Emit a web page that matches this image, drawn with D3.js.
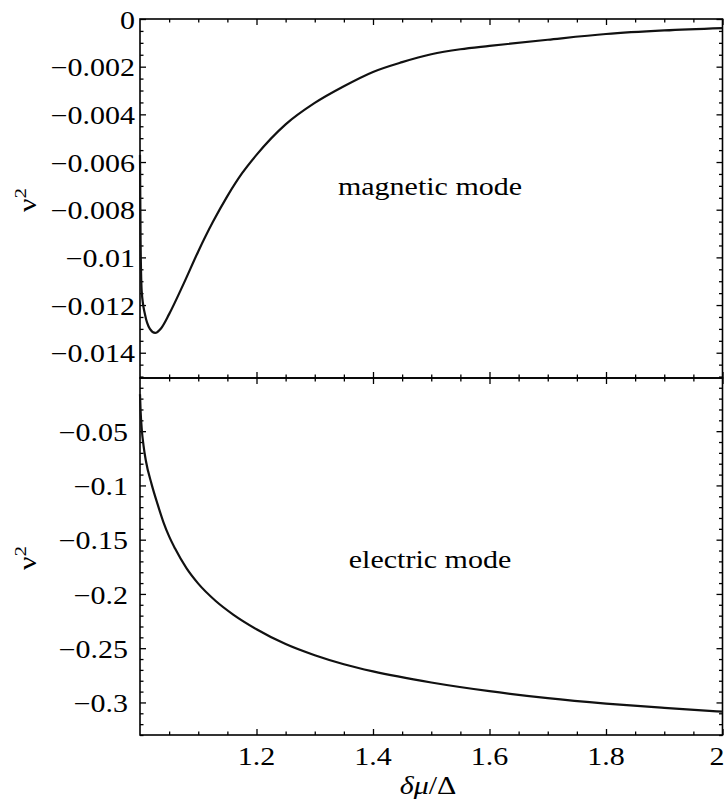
<!DOCTYPE html>
<html><head><meta charset="utf-8">
<script src="https://cdn.jsdelivr.net/npm/d3@7"></script>
<style>
body{margin:0;background:#fff;}
text{font-family:"Liberation Serif","Times New Roman",serif;fill:#000;}
</style></head>
<body><svg id="c" width="728" height="807"></svg>
<script>
// ---- data ----
const magX = [1.0, 1.001, 1.003, 1.0087, 1.017, 1.026, 1.036, 1.05, 1.075, 1.1, 1.125, 1.15, 1.175, 1.2, 1.25, 1.3, 1.35, 1.4, 1.45, 1.5, 1.55, 1.6, 1.7, 1.8, 1.9, 2.0];
const magY = [-0.0057, -0.0093, -0.01145, -0.01241, -0.0130, -0.01317, -0.01298, -0.01238, -0.0111, -0.00975, -0.00852, -0.00743, -0.00648, -0.0057, -0.00442, -0.00352, -0.00282, -0.00222, -0.00181, -0.00148, -0.00127, -0.00113, -0.00087, -0.00063, -0.00048, -0.00038];
const eleX = [1.0, 1.001, 1.003, 1.006, 1.01, 1.02, 1.03, 1.04, 1.05, 1.06, 1.08, 1.1, 1.13, 1.16, 1.2, 1.25, 1.3, 1.35, 1.4, 1.5, 1.6, 1.7, 1.8, 1.9, 2.0];
const eleY = [-0.016, -0.031, -0.048, -0.063, -0.077, -0.099, -0.117, -0.1335, -0.147, -0.158, -0.1765, -0.1905, -0.2065, -0.219, -0.2325, -0.2462, -0.2565, -0.2648, -0.2714, -0.2816, -0.2896, -0.2960, -0.3010, -0.3050, -0.3085];
const xTicks = [1.2, 1.4, 1.6, 1.8, 2];
const xTickLabels = ["1.2", "1.4", "1.6", "1.8", "2"];
const magTicks = [0, -0.002, -0.004, -0.006, -0.008, -0.01, -0.012, -0.014];
const magTickLabels = ["0", "\u22120.002", "\u22120.004", "\u22120.006", "\u22120.008", "\u22120.01", "\u22120.012", "\u22120.014"];
const eleTicks = [-0.05, -0.1, -0.15, -0.2, -0.25, -0.3];
const eleTickLabels = ["\u22120.05", "\u22120.1", "\u22120.15", "\u22120.2", "\u22120.25", "\u22120.3"];
const panelLabels = ["magnetic mode", "electric mode"];

// ---- layout ----
const L = 140, R = 722.5, T = 19, M = 378, B = 735;
const FS = 25, SX = 1.2;
const svg = d3.select("#c");

const x = d3.scaleLinear().domain([1, 2]).range([L, R]);
const yTop = d3.scaleLinear().domain([-0.01506, 0]).range([M, T]);
const yBot = d3.scaleLinear().domain([-0.33, -0.001]).range([B, M]);

const xMinor = d3.range(1.05, 2.0, 0.05).filter(v => Math.abs(v * 5 - Math.round(v * 5)) > 1e-6);

function panel(y, yMajor, yMinor, top, bottom) {
  const g = svg.append("g");
  g.append("rect").attr("x", L).attr("y", top).attr("width", R - L).attr("height", bottom - top)
    .attr("fill", "none").attr("stroke", "#000").attr("stroke-width", 1.6);
  const tick = (axis, tr, vals, size) => {
    const a = g.append("g").attr("transform", tr)
      .call(axis.tickValues(vals).tickSize(size).tickFormat(""));
    a.select(".domain").remove();
    a.selectAll("line").attr("stroke", "#000").attr("stroke-width", 1.3);
  };
  tick(d3.axisLeft(y), `translate(${L},0)`, yMajor, -6);
  tick(d3.axisLeft(y), `translate(${L},0)`, yMinor, -3.5);
  tick(d3.axisRight(y), `translate(${R},0)`, yMajor, -6);
  tick(d3.axisRight(y), `translate(${R},0)`, yMinor, -3.5);
  tick(d3.axisTop(x), `translate(0,${top})`, xTicks, -6);
  tick(d3.axisTop(x), `translate(0,${top})`, xMinor, -3.5);
  tick(d3.axisBottom(x), `translate(0,${bottom})`, xTicks, -6);
  tick(d3.axisBottom(x), `translate(0,${bottom})`, xMinor, -3.5);
}

const magMinor = d3.range(0, 61).map(i => -i * 0.0005).filter(v => v >= -0.01506 && Math.abs(v / 0.002 - Math.round(v / 0.002)) > 1e-6);
const eleMinor = d3.range(0, 34).map(i => -i * 0.01).filter(v => v >= -0.33 && v <= -0.001 && Math.abs(v / 0.05 - Math.round(v / 0.05)) > 1e-6);

panel(yTop, magTicks, magMinor, T, M);
panel(yBot, eleTicks, eleMinor, M, B);

// curves
const lineTop = d3.line().x(d => x(d[0])).y(d => yTop(d[1])).curve(d3.curveMonotoneX);
const lineBot = d3.line().x(d => x(d[0])).y(d => yBot(d[1])).curve(d3.curveMonotoneX);
svg.append("path").datum(magX.map((v, i) => [v, magY[i]])).attr("d", lineTop)
  .attr("fill", "none").attr("stroke", "#111").attr("stroke-width", 2.2);
svg.append("path").datum(eleX.map((v, i) => [v, eleY[i]])).attr("d", lineBot)
  .attr("fill", "none").attr("stroke", "#111").attr("stroke-width", 2.2);

function label(str, px, py, anchor) {
  svg.append("text").attr("transform", `translate(${px},${py}) scale(${SX},1)`)
    .attr("text-anchor", anchor).attr("dominant-baseline", "central")
    .attr("font-size", FS).text(str);
}
magTicks.forEach((v, i) => label(magTickLabels[i], 135, yTop(v) + 1, "end"));
eleTicks.forEach((v, i) => label(eleTickLabels[i], 128, yBot(v) + 1, "end"));
xTicks.forEach((v, i) => {
  svg.append("text").attr("transform", `translate(${Math.min(x(v), 717)},765) scale(${SX},1)`)
    .attr("text-anchor", "middle").attr("font-size", FS).text(xTickLabels[i]);
});

svg.append("text").attr("transform", `translate(430,195) scale(${SX},1)`)
  .attr("text-anchor", "middle").attr("font-size", FS).text(panelLabels[0]);
svg.append("text").attr("transform", `translate(430,568) scale(${SX},1)`)
  .attr("text-anchor", "middle").attr("font-size", FS).text(panelLabels[1]);

function yTitle(cy) {
  const t = svg.append("text").attr("transform", `translate(36,${cy}) rotate(-90) scale(${SX},1)`)
    .attr("text-anchor", "middle").attr("font-size", FS);
  t.append("tspan").text("\u03bd");
  t.append("tspan").attr("font-size", FS * 0.7).attr("dy", -10).text("2");
}
yTitle(200);
yTitle(558);

const xt = svg.append("text").attr("transform", `translate(428,794) scale(${SX},1)`)
  .attr("text-anchor", "middle").attr("font-size", FS);
xt.append("tspan").attr("font-style", "italic").text("\u03b4\u03bc");
xt.append("tspan").text("/\u0394");
</script></body></html>
